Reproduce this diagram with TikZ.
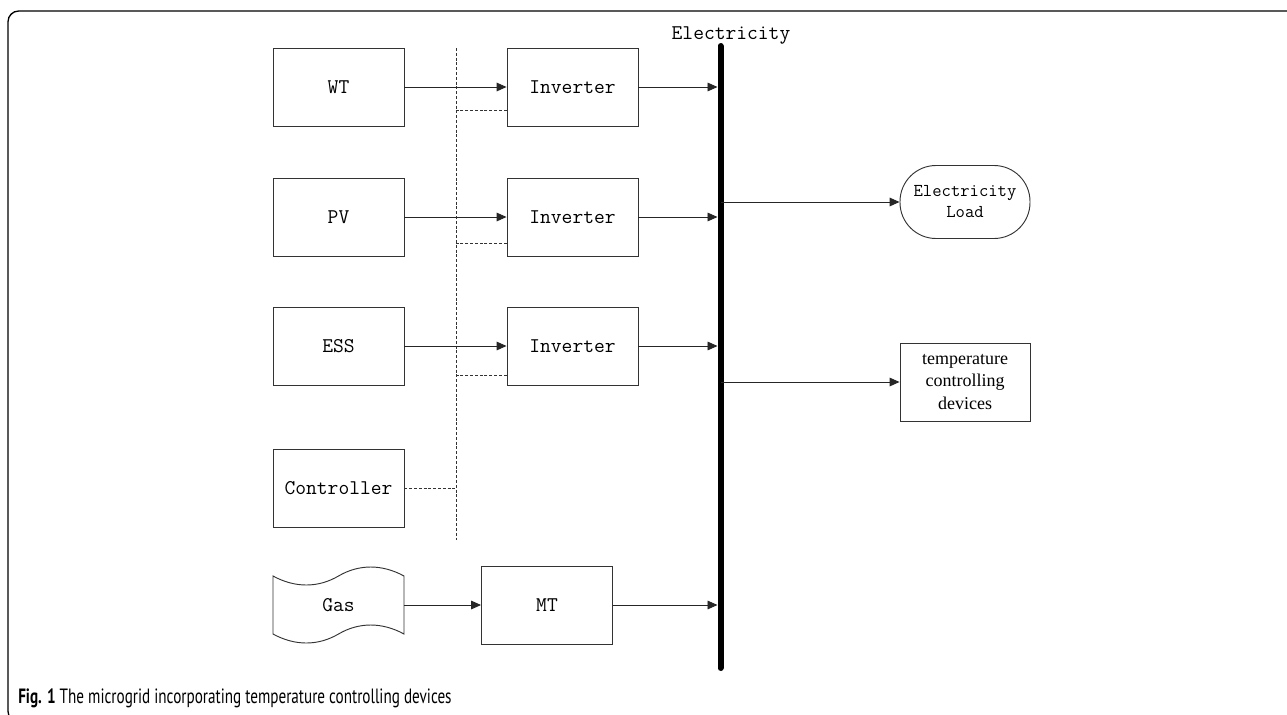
\documentclass[tikz,border=0pt]{standalone}
\usepackage{fontspec}
\usepackage{graphicx}
\setmainfont{Liberation Serif}
\newfontfamily\capf{PT Sans}
\usetikzlibrary{arrows.meta}
\begin{document}
\begin{tikzpicture}[x=0.75pt,y=-0.75pt,
  box/.style={draw=black!80,line width=0.7pt,minimum width=98.25pt,minimum height=58.5pt,inner sep=0pt,
    font=\ttfamily\fontsize{15.7}{18}\selectfont},
  conn/.style={draw=black!85,line width=0.7pt,-{Triangle[length=7.5pt,width=6.5pt]}},
  ctrl/.style={draw=black!80,line width=0.7pt,dash pattern=on 2.2pt off 1.4pt}]
\useasboundingbox (0,0) rectangle (1287,714);
\fill[white] (0,0) rectangle (1287,714);
% frame
\draw[line width=1pt,rounded corners=8pt] (1295,11) -- (8,11) -- (8,722) -- (20,722);
% boxes
\node[box] (wt) at (338.5,87) {WT};
\node[box] (pv) at (338.5,217) {PV};
\node[box] (ess) at (338.5,346) {ESS};
\node[box] (ctl) at (338.5,488) {Controller};
\node[box] (inv1) at (572.5,87) {Inverter};
\node[box] (inv2) at (572.5,217) {Inverter};
\node[box] (inv3) at (572.5,346) {Inverter};
\node[box] (mt) at (547,605) {MT};
% gas (tape shape)
\node[box,draw=none] (gas) at (338.5,605) {Gas};
\draw[black!80,line width=0.7pt] (273,576) .. controls (295,588) and (318,588) .. (338.5,576)
  .. controls (359,564) and (382,564) .. (404,576) -- (404,634)
  .. controls (382,622) and (359,622) .. (338.5,634)
  .. controls (318,646) and (295,646) .. (273,634) -- cycle;
% bus
\coordinate (busT) at (720.5,46);
\coordinate (busB) at (720.5,668);
\coordinate (busL) at (717.5,0);
\coordinate (busR) at (721,0);
\draw[line width=4.5pt,line cap=round] (busT) -- (busB);
\node[font=\ttfamily\fontsize{15.7}{18}\selectfont,inner sep=0pt] (elab) at (731,35) {Electricity};
% loads
\node[draw=black!80,line width=0.7pt,rounded corners=27pt,minimum width=97.5pt,minimum height=54.75pt,inner sep=0pt,
  align=center,font=\ttfamily\fontsize{13.6}{15.75}\selectfont] (load) at (965,202) {Electricity\\Load};
\node[draw=black!80,line width=0.7pt,minimum width=97.5pt,minimum height=58.5pt,inner sep=0pt,
  align=center,font=\fontsize{13.5}{16.9}\selectfont] (tcd) at (965,382) {temperature\\controlling\\devices};
% control bus (dashed)
\coordinate (cT) at (456,48);
\coordinate (cB) at (456,540);
\draw[ctrl] (cT) -- (cB);
\draw[ctrl] ([yshift=-17.25pt]inv1.west) -- ([yshift=-17.25pt]inv1.west -| cT);
\draw[ctrl] ([yshift=-19.5pt]inv2.west) -- ([yshift=-19.5pt]inv2.west -| cT);
\draw[ctrl] ([yshift=-21.75pt]inv3.west) -- ([yshift=-21.75pt]inv3.west -| cT);
\draw[ctrl] (ctl.east) -- (ctl.east -| cT);
% power flows
\draw[conn] (wt.east) -- (inv1.west);
\draw[conn] (pv.east) -- (inv2.west);
\draw[conn] (ess.east) -- (inv3.west);
\draw[conn] (inv1.east) -- (inv1.east -| busL);
\draw[conn] (inv2.east) -- (inv2.east -| busL);
\draw[conn] (inv3.east) -- (inv3.east -| busL);
\draw[conn] (gas.east) -- (mt.west);
\draw[conn] (mt.east) -- (mt.east -| busL);
\draw[conn] (load.west -| busR) -- (load.west);
\draw[conn] (tcd.west -| busR) -- (tcd.west);
% caption
\node[anchor=base west,inner sep=0pt,font=\capf\fontsize{15.5}{17}\selectfont] (cap) at (18,703)
  {\resizebox{325pt}{\height}{\textbf{Fig. 1} The microgrid incorporating temperature controlling devices}};
\end{tikzpicture}
\end{document}
